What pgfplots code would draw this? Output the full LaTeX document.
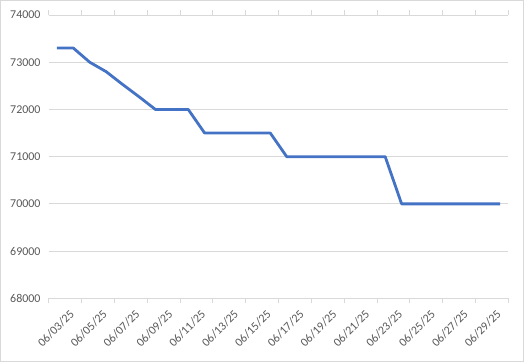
\documentclass[border=0pt]{standalone}
\usepackage{pgfplots}
\pgfplotsset{compat=1.18}
\usepackage{fontspec}
\setmainfont{Carlito}
\definecolor{lineblue}{RGB}{68,114,196}
\definecolor{gridgray}{RGB}{217,217,217}
\definecolor{txtgray}{RGB}{89,89,89}
\begin{document}
\begin{tikzpicture}
\begin{axis}[
  at={(0,0)}, anchor=south west,
  scale only axis, width=459.6bp, height=283.3bp,
  xmin=-0.5, xmax=27.5, ymin=68000, ymax=74000,
  ytick={68000,69000,...,74000},
  ymajorgrids, grid style={gridgray, line width=0.75bp},
  axis line style={draw=none},
  xtick={0,2,...,26},
  xticklabels={06/03/25,06/05/25,06/07/25,06/09/25,06/11/25,06/13/25,06/15/25,06/17/25,06/19/25,06/21/25,06/23/25,06/25/25,06/27/25,06/29/25},
  major tick length=0pt,
  extra x ticks={-0.5,1.5,...,27.5},
  extra x tick labels={},
  extra x tick style={major tick length=5bp, tick align=outside, tick style={draw=gridgray, line width=0.75bp}},
  tick label style={text=txtgray, font=\fontsize{12}{14}\selectfont},
  x tick label style={rotate=45, anchor=north east, inner sep=0pt, xshift=1bp, yshift=-16bp},
  y tick label style={inner sep=0pt, xshift=-8bp},
  scaled y ticks=false,
  /pgf/number format/.cd, fixed, 1000 sep={}, assume math mode=true,
]
\addplot[lineblue, line width=2.8bp, mark=none, line join=round] coordinates {
(0,73300) (1,73300) (2,73000) (3,72800) (4,72530) (5,72270) (6,72000)
(7,72000) (8,72000) (9,71500) (10,71500) (11,71500) (12,71500) (13,71500)
(14,71000) (15,71000) (16,71000) (17,71000) (18,71000) (19,71000) (20,71000)
(21,70000) (22,70000) (23,70000) (24,70000) (25,70000) (26,70000) (27,70000)
};
\end{axis}
\draw[gridgray, line width=1bp] (-48.2bp,-63.2bp) rectangle (474.8bp,297.8bp);
\end{tikzpicture}
\end{document}
